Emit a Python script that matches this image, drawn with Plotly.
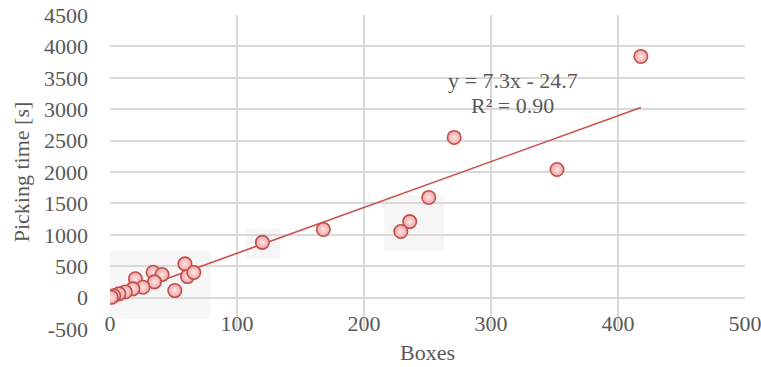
import plotly.graph_objects as go

boxes = [418, 271, 352, 251, 236, 229, 168, 120, 59, 61, 66, 34, 41, 20, 35, 51, 26, 18, 12, 7, 3, 1]
times = [3840, 2550, 2040, 1595, 1210, 1053, 1085, 880, 537, 335, 400, 404, 367, 300, 250, 112, 165, 139, 90, 60, 30, 5]

slope = 7.3
intercept = -24.7
eq_text = "y = 7.3x - 24.7"
r2_text = "R² = 0.90"
x_title = "Boxes"
y_title = "Picking time [s]"

x_ticks = [0, 100, 200, 300, 400, 500]
y_ticks = [-500, 0, 500, 1000, 1500, 2000, 2500, 3000, 3500, 4000, 4500]
y_tick_labels = ["-500", "0", "500", "1000", "1500", "2000", "2500", "3000", "3500", "4000", "4500"]

fit_x = [min(boxes), max(boxes)]
fit_y = [slope * v + intercept for v in fit_x]

FONT = "Liberation Serif"
GRAY = "#595959"
FS = 22

fig = go.Figure()

# faint background patches seen behind point clusters
for x0, x1, y0, y1 in [(-2, 79, -335, 750), (107, 134, 620, 1100), (216, 263, 750, 1630)]:
    fig.add_shape(type="rect", xref="x", yref="y", x0=x0, x1=x1, y0=y0, y1=y1,
                  fillcolor="#f6f6f6", line=dict(width=0), layer="below")

fig.add_trace(go.Scatter(
    x=fit_x, y=fit_y, mode="lines",
    line=dict(color="#c9504d", width=1.6),
    hoverinfo="skip", showlegend=False,
))
fig.add_trace(go.Scatter(
    x=boxes, y=times, mode="markers",
    marker=dict(size=13.5, color="#f0a3a3",
                gradient=dict(type="radial", color="#fde6e6"),
                line=dict(color="#c0504d", width=1.6)),
    showlegend=False,
))

fig.add_annotation(x=317, y=3461, text=eq_text, showarrow=False,
                   font=dict(family=FONT, size=FS, color=GRAY))
fig.add_annotation(x=317, y=3062, text=r2_text, showarrow=False,
                   font=dict(family=FONT, size=FS, color=GRAY))
fig.add_annotation(x=0.5, y=0, xref="paper", yref="paper", yshift=-23,
                   text=x_title, showarrow=False, yanchor="middle",
                   font=dict(family=FONT, size=FS, color=GRAY))

fig.update_layout(
    width=761, height=367,
    margin=dict(l=110, r=16, t=15, b=38),
    paper_bgcolor="white", plot_bgcolor="white",
    font=dict(family=FONT, size=FS, color=GRAY),
    xaxis=dict(
        range=[0, 500], tickvals=x_ticks, showgrid=True, automargin=False,
        gridcolor="#d9d9d9", gridwidth=1.5, zeroline=False,
        tickfont=dict(size=FS, color=GRAY),
        ticklabelstandoff=-21, ticklabeloverflow="allow",
    ),
    yaxis=dict(
        range=[-500, 4500], tickvals=y_ticks, ticktext=y_tick_labels,
        showgrid=True, automargin=False,
        gridcolor="#d9d9d9", gridwidth=1.5, zeroline=False,
        title=dict(text=y_title, standoff=8, font=dict(size=FS, color=GRAY)),
        tickfont=dict(size=FS, color=GRAY),
        ticklabelstandoff=21, ticklabeloverflow="allow",
    ),
)

fig.write_html("out.html", config={"displayModeBar": False},
               post_script="document.body.style.margin='0px';")
